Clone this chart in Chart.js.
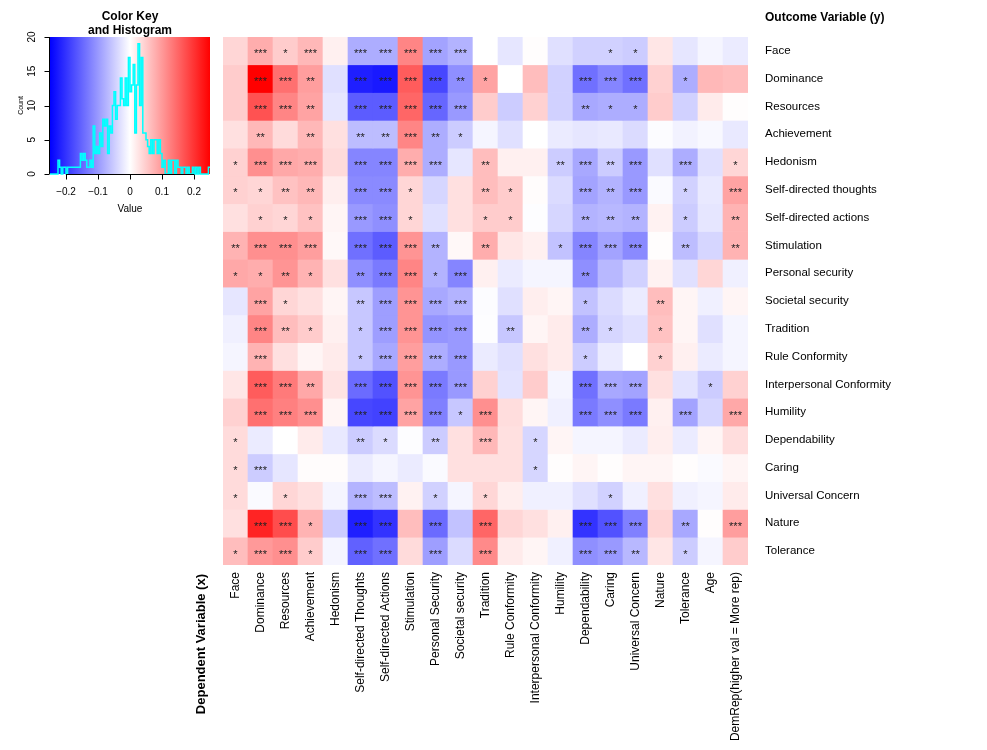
<!DOCTYPE html>
<html>
<head>
<meta charset="utf-8">
<script src="https://cdn.jsdelivr.net/npm/chart.js@4.4.0/dist/chart.umd.min.js"></script>
<style>
  html, body { margin: 0; padding: 0; background: #fff; }
  #wrap { position: relative; width: 987px; height: 750px; }
  #heat, #key { position: absolute; left: 0; top: 0; }
</style>
</head>
<body>
<div id="wrap">
  <canvas id="heat" width="987" height="750"></canvas>
  <canvas id="key" width="220" height="220"></canvas>
</div>
<script>
// Outcome variables (rows, top to bottom)
const rowLabels = ['Face', 'Dominance', 'Resources', 'Achievement', 'Hedonism',
  'Self-directed thoughts', 'Self-directed actions', 'Stimulation', 'Personal security',
  'Societal security', 'Tradition', 'Rule Conformity', 'Interpersonal Conformity',
  'Humility', 'Dependability', 'Caring', 'Universal Concern', 'Nature', 'Tolerance'];

// Dependent variables (columns, left to right)
const colLabels = ['Face', 'Dominance', 'Resources', 'Achievement', 'Hedonism',
  'Self-directed Thoughts', 'Self-directed Actions', 'Stimulation', 'Personal Security',
  'Societal security', 'Tradition', 'Rule Conformity', 'Interpersonal Conformity',
  'Humility', 'Dependability', 'Caring', 'Universal Concern', 'Nature', 'Tolerance',
  'Age', 'DemRep(higher val = More rep)'];

// Cell values, one array per row
const cellValues = [
  [0.04, 0.08, 0.05, 0.07, 0.015, -0.08, -0.08, 0.12, -0.09, -0.075, 0.0, -0.025, 0.002, -0.03, -0.045, -0.045, -0.05, 0.025, -0.025, -0.01, -0.02],
  [0.05, 0.25, 0.14, 0.095, -0.03, -0.22, -0.225, 0.16, -0.18, -0.11, 0.09, 0.0, 0.065, -0.045, -0.14, -0.12, -0.14, 0.045, -0.08, 0.07, 0.065],
  [0.05, 0.17, 0.12, 0.09, -0.025, -0.16, -0.16, 0.15, -0.15, -0.10, 0.05, -0.05, 0.045, -0.045, -0.085, -0.08, -0.08, 0.05, -0.045, 0.02, 0.002],
  [0.03, 0.07, 0.035, 0.07, 0.03, -0.065, -0.065, 0.12, -0.08, -0.05, -0.01, -0.03, 0.0, -0.02, -0.025, -0.022, -0.035, -0.003, -0.013, -0.007, -0.022],
  [0.045, 0.11, 0.085, 0.08, 0.035, -0.12, -0.12, 0.08, -0.08, -0.025, 0.065, 0.015, 0.015, -0.05, -0.085, -0.05, -0.10, -0.03, -0.08, -0.03, 0.04],
  [0.045, 0.04, 0.06, 0.07, 0.017, -0.115, -0.115, 0.04, -0.04, 0.03, 0.065, 0.05, 0.003, -0.035, -0.09, -0.075, -0.10, -0.005, -0.045, -0.022, 0.09],
  [0.03, 0.045, 0.04, 0.06, 0.01, -0.10, -0.11, 0.04, -0.03, 0.03, 0.05, 0.05, -0.002, -0.04, -0.075, -0.07, -0.075, 0.013, -0.05, -0.025, 0.075],
  [0.075, 0.11, 0.11, 0.095, 0.007, -0.14, -0.16, 0.105, -0.075, 0.007, 0.08, 0.025, 0.015, -0.06, -0.12, -0.09, -0.115, 0.002, -0.065, -0.04, 0.075],
  [0.085, 0.08, 0.105, 0.075, 0.03, -0.11, -0.13, 0.12, -0.075, -0.12, 0.015, -0.02, -0.01, -0.01, -0.11, -0.07, -0.045, 0.013, -0.03, 0.04, -0.015],
  [-0.025, 0.09, 0.04, 0.03, 0.01, -0.055, -0.095, 0.105, -0.085, -0.075, -0.003, -0.03, 0.017, 0.01, -0.06, -0.035, -0.02, 0.065, 0.01, -0.015, 0.01],
  [-0.015, 0.12, 0.065, 0.05, 0.015, -0.055, -0.095, 0.105, -0.105, -0.10, -0.002, -0.055, 0.01, 0.02, -0.08, -0.04, -0.03, 0.06, 0.01, -0.03, -0.01],
  [-0.01, 0.075, 0.03, 0.01, 0.02, -0.055, -0.085, 0.095, -0.08, -0.10, -0.02, -0.03, 0.03, 0.02, -0.05, -0.02, 0.0, 0.045, 0.015, -0.02, -0.01],
  [0.025, 0.16, 0.13, 0.085, 0.027, -0.145, -0.17, 0.105, -0.13, -0.10, 0.045, -0.027, 0.05, -0.01, -0.14, -0.085, -0.09, 0.03, -0.027, -0.05, 0.045],
  [0.045, 0.14, 0.125, 0.11, 0.01, -0.18, -0.185, 0.09, -0.125, -0.055, 0.11, 0.033, 0.01, -0.015, -0.13, -0.11, -0.13, 0.015, -0.09, -0.04, 0.085],
  [0.035, -0.02, 0.0, 0.02, -0.022, -0.05, -0.035, -0.002, -0.05, 0.03, 0.07, 0.03, -0.04, 0.01, -0.01, -0.01, -0.02, 0.017, -0.02, 0.01, 0.033],
  [0.035, -0.05, -0.025, 0.003, 0.003, -0.02, -0.01, -0.02, -0.005, 0.03, 0.03, 0.03, -0.04, 0.002, 0.01, 0.002, 0.01, 0.01, 0.002, -0.005, 0.01],
  [0.035, -0.005, 0.04, 0.03, -0.01, -0.075, -0.065, 0.013, -0.045, -0.01, 0.04, 0.017, -0.015, -0.015, -0.03, -0.045, -0.015, 0.03, -0.015, -0.01, 0.02],
  [0.03, 0.215, 0.175, 0.075, -0.05, -0.22, -0.2, 0.065, -0.145, -0.06, 0.15, 0.04, 0.03, 0.015, -0.2, -0.17, -0.125, 0.04, -0.085, 0.002, 0.095],
  [0.065, 0.10, 0.11, 0.05, -0.01, -0.155, -0.14, 0.035, -0.095, -0.035, 0.115, 0.02, 0.01, -0.015, -0.11, -0.10, -0.07, 0.025, -0.05, -0.01, 0.05]
];

// Significance stars per cell (0 = none)
const starCounts = [
  [0,3,1,3,0,3,3,3,3,3,0,0,0,0,0,1,1,0,0,0,0],
  [0,3,3,2,0,3,3,3,3,2,1,0,0,0,3,3,3,0,1,0,0],
  [0,3,3,2,0,3,3,3,3,3,0,0,0,0,2,1,1,0,0,0,0],
  [0,2,0,2,0,2,2,3,2,1,0,0,0,0,0,0,0,0,0,0,0],
  [1,3,3,3,0,3,3,3,3,0,2,0,0,2,3,2,3,0,3,0,1],
  [1,1,2,2,0,3,3,1,0,0,2,1,0,0,3,2,3,0,1,0,3],
  [0,1,1,1,0,3,3,1,0,0,1,1,0,0,2,2,2,0,1,0,2],
  [2,3,3,3,0,3,3,3,2,0,2,0,0,1,3,3,3,0,2,0,2],
  [1,1,2,1,0,2,3,3,1,3,0,0,0,0,2,0,0,0,0,0,0],
  [0,3,1,0,0,2,3,3,3,3,0,0,0,0,1,0,0,2,0,0,0],
  [0,3,2,1,0,1,3,3,3,3,0,2,0,0,2,1,0,1,0,0,0],
  [0,3,0,0,0,1,3,3,3,3,0,0,0,0,1,0,0,1,0,0,0],
  [0,3,3,2,0,3,3,3,3,3,0,0,0,0,3,3,3,0,0,1,0],
  [0,3,3,3,0,3,3,3,3,1,3,0,0,0,3,3,3,0,3,0,3],
  [1,0,0,0,0,2,1,0,2,0,3,0,1,0,0,0,0,0,0,0,0],
  [1,3,0,0,0,0,0,0,0,0,0,0,1,0,0,0,0,0,0,0,0],
  [1,0,1,0,0,3,3,0,1,0,1,0,0,0,0,1,0,0,0,0,0],
  [0,3,3,1,0,3,3,0,3,0,3,0,0,0,3,3,3,0,2,0,3],
  [1,3,3,1,0,3,3,0,3,0,3,0,0,0,3,3,2,0,1,0,0]
];

// Color key histogram: bin start values (width 0.005) and counts
const histBinStart = [
  -0.250, -0.245, -0.240, -0.235, -0.230, -0.225, -0.220, -0.215, -0.210, -0.205,
  -0.200, -0.195, -0.190, -0.185, -0.180, -0.175, -0.170, -0.165, -0.160, -0.155,
  -0.150, -0.145, -0.140, -0.135, -0.130, -0.125, -0.120, -0.115, -0.110, -0.105,
  -0.100, -0.095, -0.090, -0.085, -0.080, -0.075, -0.070, -0.065, -0.060, -0.055,
  -0.050, -0.045, -0.040, -0.035, -0.030, -0.025, -0.020, -0.015, -0.010, -0.005,
   0.000,  0.005,  0.010,  0.015,  0.020,  0.025,  0.030,  0.035,  0.040,  0.045,
   0.050,  0.055,  0.060,  0.065,  0.070,  0.075,  0.080,  0.085,  0.090,  0.095,
   0.100,  0.105,  0.110,  0.115,  0.120,  0.125,  0.130,  0.135,  0.140,  0.145,
   0.150,  0.155,  0.160,  0.165,  0.170,  0.175,  0.180,  0.185,  0.190,  0.195,
   0.200,  0.205,  0.210,  0.215,  0.220,  0.225,  0.230,  0.235,  0.240,  0.245
];
const histCounts = [
  0, 0, 0, 0, 0, 2, 1, 0, 1, 1,
  0, 1, 1, 1, 1, 1, 1, 1, 1, 3,
  2, 3, 2, 1, 1, 2, 1, 7, 3, 4,
  3, 6, 4, 8, 7, 8, 3, 7, 6, 10,
  12, 8, 10, 10, 14, 11, 10, 14, 10, 17,
  12, 13, 16, 6, 13, 19, 10, 17, 6, 6,
  5, 4, 3, 5, 3, 5, 5, 3, 5, 3,
  1, 2, 0, 0, 2, 0, 2, 2, 0, 2,
  1, 1, 0, 1, 1, 0, 1, 0, 0, 1,
  0, 1, 0, 1, 0, 0, 0, 0, 0, 1
];
const keyTicks = [-0.2, -0.1, 0, 0.1, 0.2];
const keyTickLabels = ['\u22120.2', '\u22120.1', '0', '0.1', '0.2'];
const countTicks = [0, 5, 10, 15, 20];

const KEY_MAX = 0.25;
const FONT = '"Liberation Sans", Arial, sans-serif';

Chart.defaults.font.family = FONT;
Chart.defaults.color = '#000';

// blue - white - red, like R's bluered()
function keyColor(v) {
  const t = Math.max(-1, Math.min(1, v / KEY_MAX));
  const c = Math.round(255 * (1 - Math.abs(t)));
  return t < 0 ? `rgb(${c},${c},255)` : `rgb(255,${c},${c})`;
}

// ---------- heatmap ----------
const starPlugin = {
  id: 'stars',
  afterDatasetsDraw(chart) {
    const ctx = chart.ctx;
    ctx.save();
    ctx.font = '11px ' + FONT;
    ctx.fillStyle = '#222';
    ctx.textAlign = 'center';
    ctx.textBaseline = 'alphabetic';
    chart.data.datasets.forEach((ds, r) => {
      chart.getDatasetMeta(r).data.forEach((bar, c) => {
        const n = starCounts[r][c];
        if (!n) return;
        const cy = (bar.y + bar.base) / 2;
        ctx.fillText('*'.repeat(n), bar.x, cy + 6.5);
      });
    });
    ctx.restore();
  }
};

const heatTitles = {
  id: 'heatTitles',
  afterDraw(chart) {
    const ctx = chart.ctx;
    const area = chart.chartArea;
    ctx.save();
    ctx.fillStyle = '#000';
    ctx.font = 'bold 12px ' + FONT;
    ctx.textAlign = 'left';
    ctx.textBaseline = 'middle';
    ctx.fillText('Outcome Variable (y)', area.right + 17, 18);

    ctx.translate(201, area.bottom + 9);
    ctx.rotate(-Math.PI / 2);
    ctx.font = 'bold 13px ' + FONT;
    ctx.textAlign = 'right';
    ctx.fillText('Dependent Variable (x)', 0, 0);
    ctx.restore();
  }
};

const heatDatasets = rowLabels.map((name, r) => ({
  label: name,
  data: colLabels.map(() => 1),
  backgroundColor: cellValues[r].map(keyColor),
  borderWidth: 0,
  barPercentage: 1,
  categoryPercentage: 1
}));

new Chart(document.getElementById('heat'), {
  type: 'bar',
  data: { labels: colLabels, datasets: heatDatasets },
  options: {
    responsive: false,
    animation: false,
    layout: { padding: { left: 223, top: 37, right: 0, bottom: 0 } },
    plugins: { legend: { display: false }, tooltip: { enabled: false } },
    scales: {
      x: {
        stacked: true,
        grid: { display: false, drawTicks: false },
        border: { display: false },
        ticks: {
          autoSkip: false, minRotation: 90, maxRotation: 90, padding: 7,
          font: { size: 12 }
        },
        afterFit: s => { s.height = 185; }
      },
      y: {
        stacked: true,
        position: 'right',
        reverse: true,
        min: 0,
        max: rowLabels.length,
        grid: { display: false, drawTicks: false },
        border: { display: false },
        afterBuildTicks: s => { s.ticks = rowLabels.map((_, i) => ({ value: i + 0.5 })); },
        ticks: {
          autoSkip: false, padding: 17,
          font: { size: 11.5 },
          callback: (v, i) => rowLabels[i]
        },
        afterFit: s => { s.width = 239; }
      }
    }
  },
  plugins: [starPlugin, heatTitles]
});

// ---------- color key + histogram ----------
const keyPlugin = {
  id: 'keyDecor',
  beforeDatasetsDraw(chart) {
    const ctx = chart.ctx;
    const a = chart.chartArea;
    const g = ctx.createLinearGradient(a.left, 0, a.right, 0);
    g.addColorStop(0, 'rgb(0,0,255)');
    g.addColorStop(0.5, 'rgb(255,255,255)');
    g.addColorStop(1, 'rgb(255,0,0)');
    ctx.save();
    ctx.fillStyle = g;
    ctx.fillRect(a.left, a.top, a.right - a.left, a.bottom - a.top);
    ctx.restore();
  },
  afterDraw(chart) {
    const ctx = chart.ctx;
    const a = chart.chartArea;
    const xs = chart.scales.x, ys = chart.scales.y;
    ctx.save();
    ctx.strokeStyle = '#000';
    ctx.lineWidth = 1;
    ctx.fillStyle = '#000';

    // x axis
    const x0 = xs.getPixelForValue(keyTicks[0]);
    const x1 = xs.getPixelForValue(keyTicks[keyTicks.length - 1]);
    const yb = Math.round(a.bottom) + 0.5;
    ctx.beginPath();
    ctx.moveTo(x0, yb); ctx.lineTo(x1, yb);
    keyTicks.forEach(t => {
      const px = Math.round(xs.getPixelForValue(t)) + 0.5;
      ctx.moveTo(px, yb); ctx.lineTo(px, yb + 5);
    });
    // y axis
    const xl = Math.round(a.left) - 0.5;
    ctx.moveTo(xl, ys.getPixelForValue(0)); ctx.lineTo(xl, ys.getPixelForValue(20));
    countTicks.forEach(t => {
      const py = Math.round(ys.getPixelForValue(t)) + 0.5;
      ctx.moveTo(xl, py); ctx.lineTo(xl - 5, py);
    });
    ctx.stroke();

    ctx.font = '10px ' + FONT;
    ctx.textAlign = 'center';
    ctx.textBaseline = 'middle';
    keyTicks.forEach((t, i) => {
      ctx.fillText(keyTickLabels[i], xs.getPixelForValue(t), 192);
    });
    ctx.fillText('Value', (a.left + a.right) / 2, 209);

    countTicks.forEach(t => {
      ctx.save();
      ctx.translate(32, ys.getPixelForValue(t));
      ctx.rotate(-Math.PI / 2);
      ctx.fillText(String(t), 0, 0);
      ctx.restore();
    });
    ctx.save();
    ctx.translate(21, (a.top + a.bottom) / 2);
    ctx.rotate(-Math.PI / 2);
    ctx.font = '7px ' + FONT;
    ctx.fillText('Count', 0, 0);
    ctx.restore();

    ctx.font = 'bold 12px ' + FONT;
    ctx.fillText('Color Key', 130, 17);
    ctx.fillText('and Histogram', 130, 31);
    ctx.restore();
  }
};

const histPoints = histBinStart.map((x, i) => ({ x: x, y: histCounts[i] }));
histPoints.push({ x: KEY_MAX, y: histCounts[histCounts.length - 1] });

new Chart(document.getElementById('key'), {
  type: 'line',
  data: {
    datasets: [{
      data: histPoints,
      stepped: true,
      borderColor: '#00ffff',
      borderWidth: 1.5,
      pointRadius: 0,
      fill: false,
      clip: 4
    }]
  },
  options: {
    responsive: false,
    animation: false,
    layout: { padding: { left: 50, top: 37, right: 10, bottom: 46 } },
    plugins: { legend: { display: false }, tooltip: { enabled: false } },
    scales: {
      x: { type: 'linear', min: -KEY_MAX, max: KEY_MAX, display: false },
      y: { type: 'linear', min: 0, max: 20, display: false }
    }
  },
  plugins: [keyPlugin]
});
</script>
</body>
</html>
